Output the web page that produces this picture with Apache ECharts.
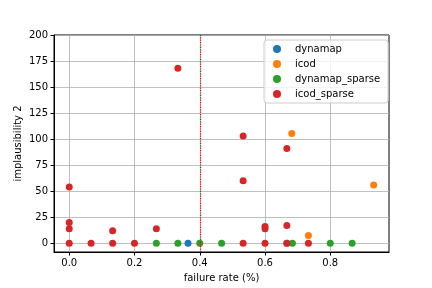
<!DOCTYPE html>
<html><head><meta charset="utf-8">
<script src="https://cdn.jsdelivr.net/npm/echarts@6/dist/echarts.min.js"></script>
<style>html,body{margin:0;padding:0;background:#fff}#c{width:432px;height:288px}</style>
</head><body><div id="c"></div>
<script>
const seriesNames = ['dynamap', 'icod', 'dynamap_sparse', 'icod_sparse'];
const dynamapX = [0.364, 0.667];
const dynamapY = [0, 0];
const icodX = [0.682, 0.733, 0.933];
const icodY = [105.5, 7.5, 56];
const dynSparseX = [0.267, 0.333, 0.4, 0.467, 0.684, 0.8, 0.867];
const dynSparseY = [0, 0, 0, 0, 0, 0, 0];
const icodSparseX = [0, 0, 0, 0, 0.067, 0.133, 0.133, 0.2, 0.267, 0.333, 0.533, 0.533, 0.533, 0.6, 0.6, 0.6, 0.667, 0.667, 0.667, 0.733];
const icodSparseY = [0, 14, 20, 54, 0, 0, 12, 0, 14, 168, 0, 60, 103, 0, 14, 16, 0, 17, 91, 0];
const xTicks = [0.0, 0.2, 0.4, 0.6, 0.8];
const yTicks = [0, 25, 50, 75, 100, 125, 150, 175, 200];
const vlineX = [0.4];

const colors = ['#1f77b4', '#ff7f0e', '#2ca02c', '#d62728'];
const zip = (xs, ys) => xs.map((x, i) => [x, ys[i]]);
const allData = [zip(dynamapX, dynamapY), zip(icodX, icodY), zip(dynSparseX, dynSparseY), zip(icodSparseX, icodSparseY)];

const font = 'DejaVu Sans';
const chart = echarts.init(document.getElementById('c'), null, {renderer: 'canvas'});
const series = seriesNames.map((n, i) => ({
  name: n, type: 'scatter', data: allData[i], symbolSize: 7,
  itemStyle: {color: colors[i], opacity: 1}, z: 2 + i
}));
series[3].markLine = {
  silent: true, symbol: 'none', label: {show: false},
  lineStyle: {color: '#ff0000', type: [1.2, 1.2], width: 1.2},
  data: vlineX.map(v => ({xAxis: v}))
};
chart.setOption({
  animation: false,
  backgroundColor: '#fff',
  color: colors,
  textStyle: {fontFamily: font},
  grid: {left: 54, right: 43, top: 35, bottom: 36, show: true, borderColor: '#000', borderWidth: 1, backgroundColor: 'transparent'},
  xAxis: {
    type: 'value', min: -0.0467, max: 0.98,
    name: 'failure rate (%)', nameLocation: 'middle', nameGap: 21, nameMoveOverlap: false,
    nameTextStyle: {fontFamily: font, fontSize: 10, color: '#000'},
    axisLine: {show: true, onZero: false, lineStyle: {color: '#000', width: 1}},
    axisTick: {show: true, inside: false, length: 3.5, lineStyle: {color: '#000'}, customValues: xTicks},
    axisLabel: {fontFamily: font, fontSize: 10, color: '#000', margin: 6, customValues: xTicks,
      formatter: v => v.toFixed(1)},
    splitLine: {show: true, lineStyle: {color: '#b0b0b0', width: 0.8}}
  },
  yAxis: {
    type: 'value', min: -8.4, max: 200,
    name: 'implausibility 2', nameLocation: 'middle', nameGap: 31, nameRotate: 90, nameMoveOverlap: false,
    nameTextStyle: {fontFamily: font, fontSize: 10, color: '#000'},
    axisLine: {show: true, onZero: false, lineStyle: {color: '#000', width: 1}},
    axisTick: {show: true, inside: false, length: 3.5, lineStyle: {color: '#000'}, customValues: yTicks},
    axisLabel: {fontFamily: font, fontSize: 10, color: '#000', margin: 6, customValues: yTicks},
    splitLine: {show: true, lineStyle: {color: '#b0b0b0', width: 0.8}}
  },
  legend: {
    orient: 'vertical', left: 264, top: 40, width: 119,
    data: seriesNames, icon: 'circle', itemWidth: 8, itemHeight: 8, itemGap: 5,
    padding: [4, 8, 4, 9],
    backgroundColor: 'rgba(255,255,255,0.8)', borderColor: '#cccccc', borderWidth: 1, borderRadius: 3,
    textStyle: {fontFamily: font, fontSize: 10, color: '#000', padding: [0, 0, 0, 9]}
  },
  series: series
});
</script></body></html>
